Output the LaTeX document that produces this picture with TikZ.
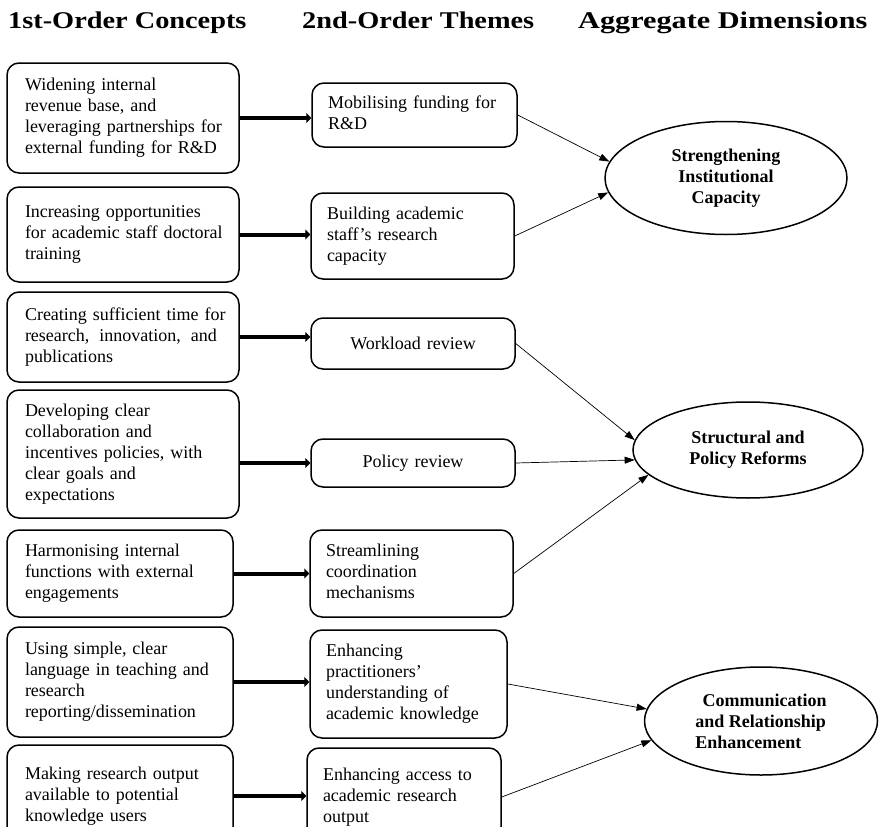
\documentclass[tikz,border=0pt]{standalone}
\usepackage{fontspec}
\setmainfont{Liberation Serif}
\newfontfamily\headfont[FakeStretch=1.18]{Liberation Serif}
\newfontfamily\headwidefont[FakeStretch=1.26]{Liberation Serif}
\usetikzlibrary{arrows.meta,shapes.geometric}
\newcommand{\rows}[1]{\begin{tabular}{@{}l@{}}#1\end{tabular}}

\begin{document}
\begin{tikzpicture}[x=1pt,y=-1pt]
    \tikzset{concept/.style = {draw, line width=1.5pt, rounded corners=12pt, inner xsep=18pt, inner ysep=0pt,
                               align=left, font=\fontsize{18}{21}\selectfont}}
    \tikzset{theme/.style = {concept, inner xsep=16pt}}
    \tikzset{dimension/.style = {shape=ellipse, draw, line width=1.5pt, inner sep=0pt,
                                 align=center, font=\fontsize{18}{21}\selectfont\bfseries}}
    \tikzset{heading/.style = {anchor=base west, inner sep=0pt, font=\headfont\fontsize{24}{28}\selectfont\bfseries}}
    \tikzset{feed/.style = {draw, line width=4pt, -{Triangle[length=5pt,width=10pt]}}}
    \tikzset{link/.style = {draw, line width=0.7pt, -{Triangle[length=10pt,width=7pt]}}}

    \useasboundingbox (0,0) rectangle (879,827);
    \clip (0,0) rectangle (879,827);

    % headings
    \node[heading] (h1) at (8,28)   {1st-Order Concepts};
    \node[heading] (h2) at (302,28) {2nd-Order Themes};
    \node[heading, font=\headwidefont\fontsize{24}{28}\selectfont\bfseries] (h3) at (578,28) {Aggregate Dimensions};

    % 1st-order concepts
    \node[concept, minimum width=232pt, text width=196pt, minimum height=110pt] (c1) at (123,118)
        {\rows{Widening internal\\revenue base, and\\leveraging partnerships for\\external funding for R\&D}};
    \node[concept, minimum width=232pt, text width=196pt, minimum height=95pt] (c2) at (123,234.5)
        {\rows{Increasing opportunities\\for academic staff doctoral\\training}};
    \node[concept, minimum width=232pt, text width=196pt, minimum height=90pt] (c3) at (123,337)
        {\rows{Creating sufficient time for\\research,\hspace{0.55em}innovation,\hspace{0.55em}and\\publications}};
    \node[concept, minimum width=232pt, text width=196pt, minimum height=128pt] (c4) at (123,454)
        {\rows{Developing clear\\collaboration and\\incentives policies, with\\clear goals and\\expectations}};
    \node[concept, minimum width=226pt, text width=190pt, minimum height=87pt] (c5) at (120,573.5)
        {\rows{Harmonising internal\\functions with external\\engagements}};
    \node[concept, minimum width=226pt, text width=190pt, minimum height=110pt] (c6) at (120,682)
        {\rows{Using simple, clear\\language in teaching and\\research\\reporting/dissemination}};
    \node[concept, minimum width=226pt, text width=190pt, minimum height=102pt] (c7) at (120,796)
        {\rows{Making research output\\available to potential\\knowledge users}};

    % 2nd-order themes
    \node[theme, minimum width=205pt, text width=173pt, minimum height=64pt] (t1) at (414.5,115)
        {\rows{Mobilising funding for\\R\&D}};
    \node[theme, minimum width=203pt, text width=171pt, minimum height=86pt] (t2) at (412.5,236)
        {\rows{Building academic\\staff's research\\capacity}};
    \node[theme, minimum width=204pt, text width=172pt, minimum height=51pt, align=center] (t3) at (413,343.5)
        {Workload review};
    \node[theme, minimum width=204pt, text width=172pt, minimum height=48pt, align=center] (t4) at (413,463)
        {Policy review};
    \node[theme, minimum width=203pt, text width=171pt, minimum height=87pt] (t5) at (411.5,573.5)
        {\rows{Streamlining\\coordination\\mechanisms}};
    \node[theme, minimum width=197pt, text width=165pt, minimum height=108pt] (t6) at (408.5,684)
        {\rows{Enhancing\\practitioners'\\understanding of\\academic knowledge}};
    \node[theme, minimum width=194pt, text width=162pt, minimum height=98pt] (t7) at (404,797)
        {\rows{Enhancing access to\\academic research\\output}};

    % aggregate dimensions
    \node[dimension, minimum width=242pt, minimum height=113pt] (d1) at (726,178)
        {Strengthening\\Institutional\\Capacity};
    \node[dimension, minimum width=230pt, minimum height=96pt] (d2) at (748,450)
        {Structural and\\Policy Reforms};
    \node[dimension, minimum width=233pt, minimum height=108pt, align=left] (d3) at (761,721)
        {\hspace{0.4em}Communication\\and Relationship\\Enhancement};

    % concepts to themes
    \draw[feed] (c1.east) -- (c1.east -| t1.west);
    \draw[feed] (c2.east) -- (c2.east -| t2.west);
    \draw[feed] (c3.east) -- (c3.east -| t3.west);
    \draw[feed] (t4.west -| c4.east) -- (t4.west);
    \draw[feed] (c5.east) -- (c5.east -| t5.west);
    \draw[feed] (c6.east) -- (c6.east -| t6.west);
    \draw[feed] (c7.east) -- (c7.east -| t7.west);

    % themes to dimensions
    \draw[link] (t1.east) -- (d1.172);
    \draw[link] (t2.east) -- (d1.187);
    \draw[link] (t3.east) -- (d2.175);
    \draw[link] (t4.east) -- (d2.185);
    \draw[link] (t5.east) -- (d2.194);
    \draw[link] (t6.east) -- (d3.174);
    \draw[link] (t7.east) -- (d3.190);
\end{tikzpicture}
\end{document}
